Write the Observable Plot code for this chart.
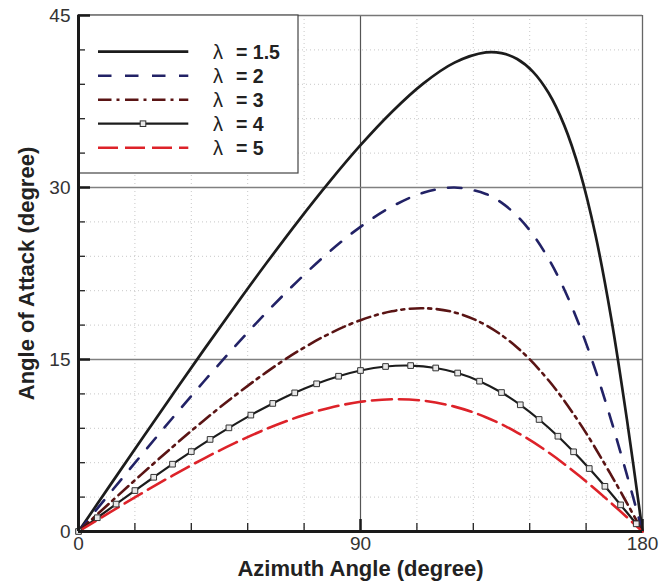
<!DOCTYPE html>
<html>
<head>
<meta charset="utf-8">
<script src="https://cdn.jsdelivr.net/npm/d3@7"></script>
<script src="https://cdn.jsdelivr.net/npm/@observablehq/plot@0.6"></script>
<style>
  body { margin: 0; background: #fff; }
</style>
</head>
<body>
<div id="chart"></div>
<script>
// Azimuth angles (degree) at which each curve is sampled
const thetaA = [0, 10, 20, 30, 40, 50, 60, 70, 80, 90, 100, 110, 120, 130, 140, 150, 160, 170, 180];
const thetaB = [0, 10, 20, 30, 40, 50, 60, 70, 80, 90, 100, 110, 120, 130, 135, 140, 145, 150, 155, 160, 165, 170, 175, 180];
const thetaL4 = [0, 6, 12, 18, 24, 30, 36, 42, 48, 55, 62, 69, 76, 83, 90, 98, 106, 114, 121, 128, 135, 141, 147, 153, 158, 163, 168, 173, 178, 180];

// Angle of attack (degree) for each tip speed ratio
const aoaL15 = [0, 4.00, 7.98, 11.93, 15.84, 19.67, 23.41, 27.03, 30.47, 33.69, 36.59, 39.06, 40.89, 41.78, 41.72, 41.21, 40.11, 38.26, 35.44, 31.40, 25.85, 18.62, 9.82, 0];
const aoaL2 = [0, 3.33, 6.64, 9.90, 13.08, 16.16, 19.11, 21.86, 24.38, 26.57, 28.33, 29.54, 30.00, 29.44, 28.68, 27.51, 25.91, 23.79, 21.13, 17.87, 14.05, 9.70, 4.96, 0];
const aoaL3 = [0, 2.49, 4.96, 7.37, 9.69, 11.87, 13.90, 15.71, 17.24, 18.43, 19.21, 19.47, 19.11, 18.00, 16.05, 13.19, 9.43, 4.92, 0];
const aoaL4 = [0, 1.20, 2.39, 3.57, 4.73, 5.87, 6.97, 8.03, 9.04, 10.15, 11.17, 12.09, 12.88, 13.54, 14.04, 14.39, 14.47, 14.26, 13.82, 13.11, 12.12, 11.05, 9.77, 8.31, 6.95, 5.49, 3.94, 2.32, 0.67, 0];
const aoaL5 = [0, 1.66, 3.30, 4.87, 6.36, 7.73, 8.95, 9.98, 10.78, 11.31, 11.53, 11.41, 10.89, 9.97, 8.63, 6.90, 4.81, 2.48, 0];

// Tick values
const xMajor = [0, 90, 180];
const xMinor = [18, 36, 54, 72, 108, 126, 144, 162];
const yMajor = [0, 15, 30, 45];
const yMinor = [3, 6, 9, 12, 18, 21, 24, 27, 33, 36, 39, 42];

const rows = (theta, aoa) => theta.map((t, i) => ({theta: t, aoa: aoa[i]}));

const series = [
  {lambda: "1.5", data: rows(thetaB, aoaL15), color: "#1c1c1c", dash: null, width: 2.7},
  {lambda: "2",   data: rows(thetaB, aoaL2),  color: "#222266", dash: "13.5,13.5", width: 2.6},
  {lambda: "3",   data: rows(thetaA, aoaL3),  color: "#5a1414", dash: "13.5,5,3,5.5", width: 2.6},
  {lambda: "4",   data: rows(thetaL4, aoaL4), color: "#1c1c1c", dash: null, width: 2.2, symbol: true},
  {lambda: "5",   data: rows(thetaA, aoaL5),  color: "#dd2229", dash: "20,7", width: 2.6}
];

const W = 659, H = 584;
const margin = {top: 15, right: 17, bottom: 53, left: 78};
const plotW = W - margin.left - margin.right;
const plotH = H - margin.top - margin.bottom;
const font = "'Liberation Sans', Arial, sans-serif";

// Legend box in the upper-left corner of the frame
function legend(index, scales, values, dimensions) {
  const ml = dimensions.marginLeft, mt = dimensions.marginTop;
  const g = d3.create("svg:g").attr("font-family", font).attr("text-anchor", "start");
  g.append("rect")
    .attr("x", ml).attr("y", mt).attr("width", 220).attr("height", 158)
    .attr("fill", "white").attr("stroke", "#444").attr("stroke-width", 1.2);
  series.forEach((s, i) => {
    const y = mt + 36.7 + i * 24;
    g.append("line")
      .attr("x1", ml + 20).attr("x2", ml + 110.3).attr("y1", y).attr("y2", y)
      .attr("stroke", s.color).attr("stroke-width", s.width)
      .attr("stroke-dasharray", s.dash);
    if (s.symbol) {
      g.append("rect")
        .attr("x", ml + 65 - 2.8).attr("y", y - 2.8).attr("width", 5.6).attr("height", 5.6)
        .attr("fill", "#e8e8e8").attr("stroke", "#333").attr("stroke-width", 1);
    }
    g.append("text")
      .attr("x", ml + 135).attr("y", y).attr("dy", "0.36em")
      .attr("font-size", 20).attr("fill", "#222")
      .text("λ");
    g.append("text")
      .attr("x", ml + 158).attr("y", y).attr("dy", "0.36em")
      .attr("font-size", 19.5).attr("font-weight", "bold").attr("fill", "#222")
      .text("= " + s.lambda);
  });
  return g.node();
}

const chart = Plot.plot({
  width: W,
  height: H,
  marginTop: margin.top,
  marginRight: margin.right,
  marginBottom: margin.bottom,
  marginLeft: margin.left,
  style: {fontFamily: font, background: "white"},
  x: {domain: [0, 180]},
  y: {domain: [0, 45]},
  marks: [
    // faint dotted minor grid
    Plot.ruleX(xMinor, {stroke: "#c8c8c8", strokeWidth: 1, strokeDasharray: "1,3"}),
    Plot.ruleY(yMinor, {stroke: "#c8c8c8", strokeWidth: 1, strokeDasharray: "1,3"}),
    // major grid
    Plot.ruleX([90], {stroke: "#555", strokeWidth: 1.2}),
    Plot.ruleY([15, 30], {stroke: "#808080", strokeWidth: 1.6}),
    // top and right frame edges
    Plot.ruleY([45], {stroke: "#777", strokeWidth: 1.5}),
    Plot.ruleX([180], {stroke: "#666", strokeWidth: 1.3}),
    legend,
    // curves
    ...series.map(s => Plot.line(s.data, {
      x: "theta", y: "aoa", curve: "catmull-rom",
      stroke: s.color, strokeWidth: s.width, strokeDasharray: s.dash
    })),
    // symbols along the lambda = 4 curve (none on its closing point)
    Plot.dot(series[3].data.slice(0, -1), {
      x: "theta", y: "aoa", symbol: "square", r: 3.2,
      fill: "#e8e8e8", stroke: "#333", strokeWidth: 1
    }),
    // inward tick marks
    Plot.ruleY(yMinor, {stroke: "#222", strokeWidth: 1.3, insetRight: plotW - 7}),
    Plot.ruleY(yMajor, {stroke: "#1a1a1a", strokeWidth: 2.5, insetRight: plotW - 12}),
    Plot.ruleX(xMinor, {stroke: "#222", strokeWidth: 1.3, insetTop: plotH - 8}),
    Plot.ruleX(xMajor, {stroke: "#1a1a1a", strokeWidth: 2.5, insetTop: plotH - 12}),
    // axis lines
    Plot.ruleX([0], {stroke: "#1a1a1a", strokeWidth: 3}),
    Plot.ruleY([0], {stroke: "#1a1a1a", strokeWidth: 3}),
    // tick labels
    Plot.axisX({ticks: xMajor, tickSize: 0, tickPadding: 5, fontSize: 19, fill: "#333", label: null}),
    Plot.axisY({ticks: yMajor, tickSize: 0, tickPadding: 8, fontSize: 19, fill: "#333", label: null}),
    // axis titles
    Plot.text(["Azimuth Angle (degree)"], {
      text: d => d, frameAnchor: "bottom", dy: 37, lineAnchor: "middle", textAnchor: "middle",
      fontSize: 22, fontWeight: "bold", fill: "#222"
    }),
    Plot.text(["Angle of Attack (degree)"], {
      text: d => d, frameAnchor: "left", rotate: -90, dx: -52, lineAnchor: "middle", textAnchor: "middle",
      fontSize: 22, fontWeight: "bold", fill: "#222"
    })
  ]
});

document.getElementById("chart").appendChild(chart);
</script>
</body>
</html>
